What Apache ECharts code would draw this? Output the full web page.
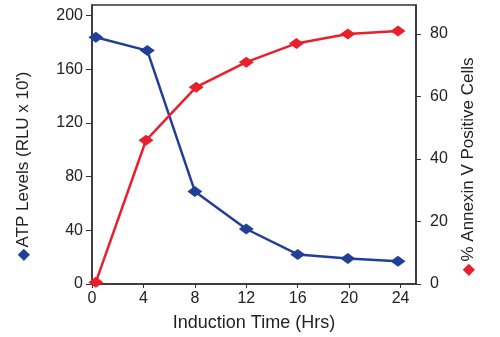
<!DOCTYPE html>
<html>
<head>
<meta charset="utf-8">
<script src="https://cdn.jsdelivr.net/npm/echarts@6/dist/echarts.min.js"></script>
<style>
  html, body { margin: 0; padding: 0; background: #fff; }
  #container { width: 500px; height: 337px; }
</style>
</head>
<body>
<div id="container"></div>
<script>
// datos
var hours = [0.3, 4.3, 8, 12, 16, 19.9, 23.8];
var atpLevels = [184, 174, 69, 41, 22, 19, 17];
var annexinHours = [0.3, 4.2, 8.1, 12, 15.9, 19.9, 23.8];
var annexinPositive = [0.6, 46, 63, 71, 77, 80, 81];
var xTicks = [0, 4, 8, 12, 16, 20, 24];
var leftTicks = [0, 40, 80, 120, 160, 200];
var rightTicks = [0, 20, 40, 60, 80];

var blue = '#213f96';
var red = '#e8202c';
var font = 'Liberation Sans, Arial, sans-serif';

function pairs(xs, ys) {
    return xs.map(function (x, i) { return [x, ys[i]]; });
}

document.addEventListener('DOMContentLoaded', function () {
    var myChart = echarts.init(document.getElementById('container'));

    var option = {
        animation: false,
        grid: {
            left: 92, right: 84, top: 5, bottom: 52,
            show: true, borderColor: '#333', borderWidth: 1.5
        },
        xAxis: {
            type: 'value',
            min: 0, max: 25.2,
            name: 'Induction Time (Hrs)',
            nameLocation: 'middle',
            nameGap: 30,
            nameTextStyle: { fontFamily: font, fontSize: 18, color: '#222' },
            splitLine: { show: false },
            axisLine: { lineStyle: { color: '#333', width: 1.5 } },
            axisTick: { customValues: xTicks, length: 4, lineStyle: { color: '#333' } },
            axisLabel: { customValues: xTicks, fontFamily: font, fontSize: 16, color: '#222', margin: 7 }
        },
        yAxis: [
            {
                type: 'value',
                min: 0, max: 208,
                name: '{d|◆}ATP Levels (RLU x 10\')',
                nameLocation: 'middle',
                nameRotate: 90,
                nameGap: 60,
                nameTextStyle: {
                    fontFamily: font, fontSize: 17, color: '#222',
                    padding: [0, 44, 0, 0],
                    rich: { d: { color: blue, fontSize: 16, padding: [0, 2, 0, 0] } }
                },
                splitLine: { show: false },
                axisLine: { show: true, lineStyle: { color: '#333', width: 1.5 } },
                axisTick: { show: true, customValues: leftTicks, length: 6, lineStyle: { color: '#333' } },
                axisLabel: { customValues: leftTicks, fontFamily: font, fontSize: 16, color: '#222', margin: 9 }
            },
            {
                type: 'value',
                min: 0, max: 89.3,
                position: 'right',
                name: '{d|◆}% Annexin V Positive Cells',
                nameLocation: 'middle',
                nameRotate: 90,
                nameGap: 44,
                nameTextStyle: {
                    fontFamily: font, fontSize: 17, color: '#222',
                    padding: [0, 44, 0, 0],
                    rich: { d: { color: red, fontSize: 16, padding: [0, 2, 0, 0] } }
                },
                splitLine: { show: false },
                axisLine: { show: true, lineStyle: { color: '#333', width: 1.5 } },
                axisTick: { show: true, customValues: rightTicks, length: 5, lineStyle: { color: '#333' } },
                axisLabel: { customValues: rightTicks, fontFamily: font, fontSize: 16, color: '#222', margin: 14 }
            }
        ],
        series: [
            {
                name: 'ATP Levels',
                type: 'line',
                yAxisIndex: 0,
                data: pairs(hours, atpLevels),
                symbol: 'diamond',
                symbolSize: [15, 11],
                itemStyle: { color: blue },
                lineStyle: { color: blue, width: 2.5 }
            },
            {
                name: '% Annexin V Positive Cells',
                type: 'line',
                yAxisIndex: 1,
                data: pairs(annexinHours, annexinPositive),
                symbol: 'diamond',
                symbolSize: [15, 11],
                itemStyle: { color: red },
                lineStyle: { color: red, width: 2.5 }
            }
        ]
    };

    myChart.setOption(option);
    window.addEventListener('resize', myChart.resize);
});
</script>
</body>
</html>
